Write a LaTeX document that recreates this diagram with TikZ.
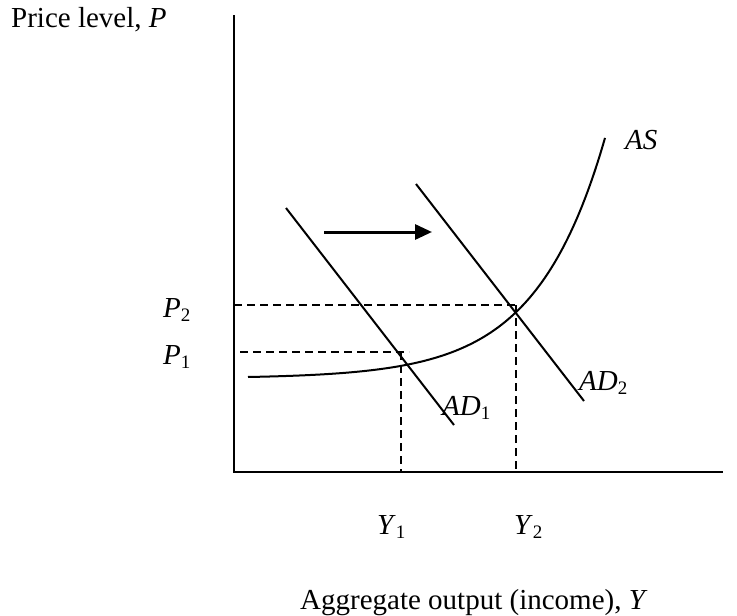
\documentclass[tikz,border=0pt]{standalone}
\usepackage{fontspec}
\setmainfont{Liberation Serif}
\usetikzlibrary{arrows.meta}
\newcommand{\mysubs}[1]{\raisebox{-4pt}{\fontsize{19}{19}\selectfont #1}}
\tikzset{
  lbl/.style={inner sep=0pt, anchor=base west, font=\fontsize{29}{34}\selectfont},
  axisline/.style={line width=2.4pt},
  curve/.style={line width=2pt},
  guide/.style={line width=1.8pt, dash pattern=on 8pt off 5pt},
  shiftarrow/.style={line width=3pt, -{Triangle[length=17pt,width=15pt]}}
}
\begin{document}
\begin{tikzpicture}[x=1pt,y=-1pt]
\useasboundingbox (0,0) rectangle (737,616);
% axes
\coordinate (ytop) at (234,15);
\coordinate (O) at (234,472);
\coordinate (xend) at (723,472);
\draw[axisline] (ytop) -- (O) -- (xend);
% guides
\coordinate (p2l) at (234,305);
\coordinate (p2r) at (516,305);
\coordinate (y2b) at (516,472);
\coordinate (p1l) at (240,352);
\coordinate (p1r) at (409,352);
\coordinate (y1t) at (401,352);
\coordinate (y1b) at (401,472);
\draw[guide] (p2l) -- (p2r);
\draw[guide] (p2r) -- (y2b);
\draw[guide] (p1l) -- (p1r);
\draw[guide] (y1t) -- (y1b);
% AD curves
\coordinate (ad1a) at (286,208);
\coordinate (ad1b) at (454,425);
\coordinate (ad2a) at (416,184);
\coordinate (ad2b) at (584,401);
\draw[curve] (ad1a) -- (ad1b);
\draw[curve] (ad2a) -- (ad2b);
% AS curve
\draw[curve] plot[domain=0:357, samples=120, smooth] ({248+\x},{377-1.36*(exp(0.0145*\x)-1)});
% shift arrow
\coordinate (arra) at (324,232);
\coordinate (arrb) at (432,232);
\draw[shiftarrow] (arra) -- (arrb);
% labels
\node[lbl] (ylab) at (11,27) {Price level, \textit{P}};
\node[lbl] (xlab) at (300,609) {Aggregate output (income), \textit{Y}};
\node[lbl] (P2) at (163,317) {\textit{P}\mysubs{2}};
\node[lbl] (P1) at (163,364) {\textit{P}\mysubs{1}};
\node[lbl] (Y1) at (377,534) {\textit{Y}\mysubs{1}};
\node[lbl] (Y2) at (514,534) {\textit{Y}\mysubs{2}};
\node[lbl] (AS) at (625,149) {\textit{AS}};
\node[lbl] (AD1) at (442,415) {\textit{AD}\mysubs{1}};
\node[lbl] (AD2) at (579,390) {\textit{AD}\mysubs{2}};
\end{tikzpicture}
\end{document}
